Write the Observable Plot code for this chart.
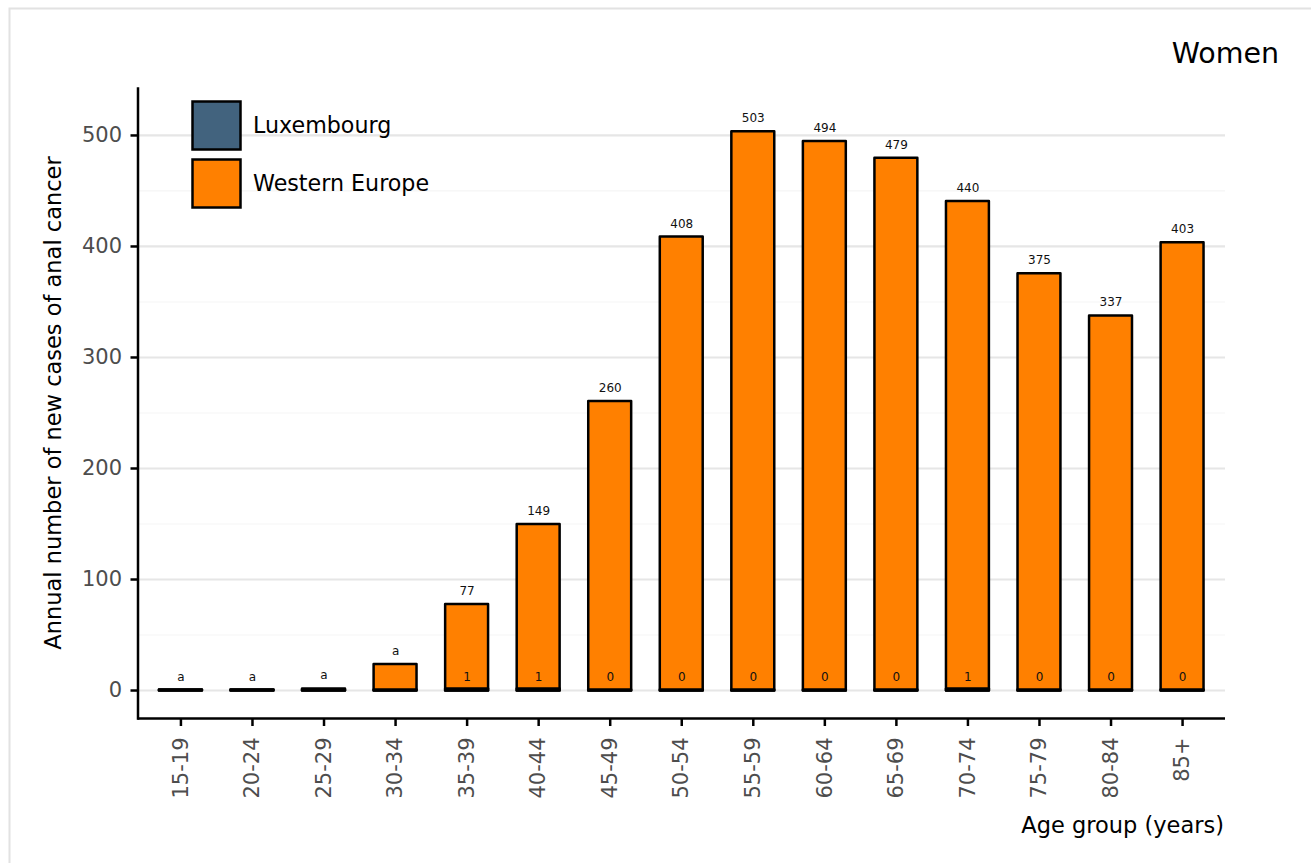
<!DOCTYPE html>
<html>
<head>
<meta charset="utf-8">
<script src="https://cdn.jsdelivr.net/npm/d3@7"></script>
<script src="https://cdn.jsdelivr.net/npm/@observablehq/plot@0.6"></script>
<style>
  html, body { margin: 0; padding: 0; background: #fff; }
  #chart { position: relative; width: 1311px; height: 863px; overflow: hidden; }
  #chart svg { display: block; }
</style>
</head>
<body>
<div id="chart"></div>
<script>
// ---- data ----
const ageGroups = ["15-19","20-24","25-29","30-34","35-39","40-44","45-49","50-54","55-59","60-64","65-69","70-74","75-79","80-84","85+"];
const westernEurope = [0, 0, 1, 23, 77, 149, 260, 408, 503, 494, 479, 440, 375, 337, 403];
const luxembourg = [0, 0, 0, 0, 1, 1, 0, 0, 0, 0, 0, 1, 0, 0, 0];
const westernEuropeLabels = ["a","a","a","a","77","149","260","408","503","494","479","440","375","337","403"];
const luxembourgLabels = ["","","","","1","1","0","0","0","0","0","1","0","0","0"];
const yTicks = [0, 100, 200, 300, 400, 500];
const yMinorTicks = [50, 150, 250, 350, 450];
const seriesNames = ["Luxembourg", "Western Europe"];
const seriesColors = ["#42637e", "#ff8000"];
const panelTitle = "Women";
const xTitle = "Age group (years)";
const yTitle = "Annual number of new cases of anal cancer";

const we = ageGroups.map((g, i) => ({age: g, value: westernEurope[i], label: westernEuropeLabels[i]}));
const lux = ageGroups.map((g, i) => ({age: g, value: luxembourg[i], label: luxembourgLabels[i]}));

const W = 1311, H = 863;
const mL = 137.5, mR = W - 1225, mT = 88, mB = H - 718;
const font = "DejaVu Sans";

const plot = Plot.plot({
  width: W,
  height: H,
  marginLeft: mL,
  marginRight: mR,
  marginTop: mT,
  marginBottom: mB,
  style: {fontFamily: font, background: "transparent", overflow: "visible"},
  x: {domain: ageGroups, paddingInner: 0.4, paddingOuter: 0.3, round: false, axis: null},
  y: {domain: [-25.2, 542.3], axis: null},
  marks: [
    Plot.ruleY(yMinorTicks, {stroke: "#f5f5f5", strokeWidth: 1.2}),
    Plot.ruleY(yTicks, {stroke: "#e6e6e6", strokeWidth: 2.2}),
    Plot.barY(we, {x: "age", y: "value", fill: seriesColors[1], stroke: "black", strokeWidth: 2.5, strokeLinejoin: "round", insetTop: -0.5, insetBottom: -0.5}),
    Plot.barY(lux, {x: "age", y: "value", fill: seriesColors[0], stroke: "black", strokeWidth: 2.5, strokeLinejoin: "round", insetTop: -0.5, insetBottom: -0.5}),
    Plot.text(we, {x: "age", y: "value", text: "label", lineAnchor: "bottom", dy: -10, fontSize: 12, fill: "#111"}),
    Plot.text(lux, {x: "age", y: 0, text: "label", lineAnchor: "bottom", dy: -10, fontSize: 12, fill: "#111"}),
    Plot.axisY({ticks: yTicks, tickSize: 7, tickPadding: 9, strokeWidth: 2.5, stroke: "black", fill: "#4d4d4d", fontSize: 21, label: null}),
    Plot.axisX({tickSize: 8, tickPadding: 11, tickRotate: -90, strokeWidth: 2.5, stroke: "black", fill: "#4d4d4d", fontSize: 21, label: null}),
    Plot.ruleY([-25.2], {stroke: "black", strokeWidth: 2.5}),
    Plot.frame({anchor: "left", stroke: "black", strokeWidth: 2.5})
  ]
});

document.getElementById("chart").appendChild(plot);

// annotations: border, titles, legend
const svg = d3.select(plot);
svg.insert("rect", ":first-child")
  .attr("x", 9.5).attr("y", 8.5).attr("width", W + 20).attr("height", H + 20)
  .attr("fill", "none").attr("stroke", "#e2e2e2").attr("stroke-width", 2);

svg.append("text").text(panelTitle)
  .attr("x", 1279).attr("y", 63).attr("text-anchor", "end")
  .attr("font-family", font).attr("font-size", 28.5).attr("fill", "black");

svg.append("text").text(xTitle)
  .attr("x", 1224).attr("y", 833).attr("text-anchor", "end")
  .attr("font-family", font).attr("font-size", 22.5).attr("fill", "black");

svg.append("text").text(yTitle)
  .attr("transform", `translate(61,${(mT + (H - mB)) / 2}) rotate(-90)`)
  .attr("text-anchor", "middle")
  .attr("font-family", font).attr("font-size", 22.5).attr("fill", "black");

const legY = [101, 159];
seriesNames.forEach((name, i) => {
  svg.append("rect")
    .attr("x", 192.5).attr("y", legY[i] + 0.5).attr("width", 48).attr("height", 48)
    .attr("fill", seriesColors[i]).attr("stroke", "black").attr("stroke-width", 2.5);
  svg.append("text").text(name)
    .attr("x", 253).attr("y", legY[i] + 32)
    .attr("text-anchor", "start")
    .attr("font-family", font).attr("font-size", 22.2).attr("fill", "black");
});
</script>
</body>
</html>
